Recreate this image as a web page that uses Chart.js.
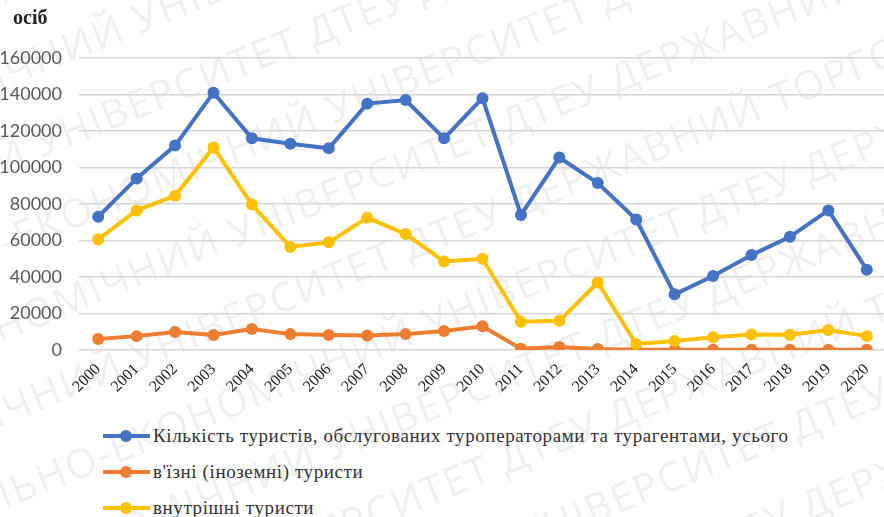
<!DOCTYPE html>
<html>
<head>
<meta charset="utf-8">
<script src="https://cdn.jsdelivr.net/npm/chart.js@4"></script>
<style>
  html, body { margin: 0; padding: 0; background: #fff; overflow: hidden; }
  #wrap { position: relative; width: 884px; height: 517px; overflow: hidden; background: #fff; }
  #mark { position: absolute; left: -560px; top: -740px; width: 2000px; height: 2000px;
          transform: rotate(-22deg); transform-origin: 1000px 1000px;
          font: 40px "Open Sans", sans-serif; color: rgba(0,0,0,0.075); white-space: nowrap;
          line-height: 78px; letter-spacing: 2px; }
  #chartBox { position: absolute; left: 0; top: 0; width: 892px; height: 400px; }
  #unit { position: absolute; left: 13px; top: 6px; font: bold 20px "Liberation Serif", serif; color: #222; }
  #legend { position: absolute; left: 103px; top: 418px; font: 19px "Liberation Serif", serif; color: #333; letter-spacing: 0.6px; }
  .item { height: 36px; display: flex; align-items: center; }
  .mark { position: relative; width: 47px; height: 4px; margin-right: 3px; }
  .mark i { position: absolute; left: 17px; top: -4px; width: 12px; height: 12px; border-radius: 50%; }
</style>
</head>
<body>
<div id="wrap">
  <div id="mark"></div>
  <div id="chartBox"><canvas id="lineCanvas" width="892" height="400"></canvas></div>
  <div id="unit">осіб</div>
  <div id="legend"></div>
</div>
<script>
// Роки
const years = ["2000","2001","2002","2003","2004","2005","2006","2007","2008","2009","2010",
               "2011","2012","2013","2014","2015","2016","2017","2018","2019","2020"];

// Значення
const totalTourists = [73000, 94000, 112000, 141000, 116000, 113000, 110500, 135000, 137000, 116000, 138000,
                       74000, 105500, 91500, 71500, 30500, 40500, 52000, 62000, 76500, 44000];
const inboundTourists = [6000, 7600, 9800, 8200, 11500, 8700, 8200, 8000, 8700, 10400, 13000,
                         700, 1600, 500, 200, 200, 200, 200, 200, 200, 200];
const domesticTourists = [60600, 76500, 84500, 111000, 79700, 56500, 59000, 72500, 63500, 48500, 50000,
                          15500, 16000, 37000, 3300, 4900, 7000, 8500, 8300, 11000, 7600];

const seriesNames = [
  "Кількість туристів, обслугованих туроператорами та турагентами, усього",
  "в'їзні (іноземні) туристи",
  "внутрішні туристи"
];
const seriesColors = ["#4472C4", "#ED7D31", "#FFC000"];
const yTicks = [0, 20000, 40000, 60000, 80000, 100000, 120000, 140000, 160000];

// водяний знак
const markText = "ДТЕУ ДЕРЖАВНИЙ ТОРГОВЕЛЬНО-ЕКОНОМІЧНИЙ УНІВЕРСИТЕТ ";
document.getElementById("mark").innerHTML =
  Array.from({ length: 26 }, (_, i) => "<div style='margin-left:" + (-(i * 137) % 420) + "px'>" + markText.repeat(4) + "</div>").join("");

const seriesData = [totalTourists, inboundTourists, domesticTourists];

const datasets = seriesData.map((vals, i) => ({
  label: seriesNames[i],
  data: vals,
  borderColor: seriesColors[i],
  backgroundColor: seriesColors[i],
  pointBackgroundColor: seriesColors[i],
  pointBorderColor: seriesColors[i],
  borderWidth: 4,
  pointRadius: 6,
  pointBorderWidth: 0,
  tension: 0,
  order: 2 - i   // пізніші серії малюються зверху
}));

const ctx = document.getElementById("lineCanvas").getContext("2d");

new Chart(ctx, {
  type: "line",
  data: { labels: years, datasets: datasets },
  options: {
    responsive: false,
    animation: false,
    layout: { padding: { top: 58, right: 2, left: 0, bottom: 0 } },
    plugins: {
      legend: { display: false },
      tooltip: { enabled: false }
    },
    scales: {
      x: {
        offset: true,
        grid: { display: false },
        border: { display: false },
        ticks: {
          maxRotation: 45,
          minRotation: 45,
          color: "#222",
          font: { family: "Liberation Serif", size: 16 },
          padding: 2
        },
        afterFit: (scale) => { scale.height = 50; }
      },
      y: {
        min: 0,
        max: 160000,
        afterBuildTicks: (scale) => { scale.ticks = yTicks.map(v => ({ value: v })); },
        grid: { color: "#d6d6d6", lineWidth: 1.5, drawTicks: false },
        border: { display: false },
        ticks: {
          color: "#595959",
          font: { family: "Lato", size: 18 },
          padding: 17,
          callback: (v) => String(v)
        },
        afterFit: (scale) => { scale.width = 79; }
      }
    }
  }
});

// Легенда
const legendEl = document.getElementById("legend");
seriesNames.forEach((name, i) => {
  const row = document.createElement("div");
  row.className = "item";
  row.innerHTML = `<span class="mark" style="background:${seriesColors[i]}"><i style="background:${seriesColors[i]}"></i></span><span>${name}</span>`;
  legendEl.appendChild(row);
});
</script>
</body>
</html>
